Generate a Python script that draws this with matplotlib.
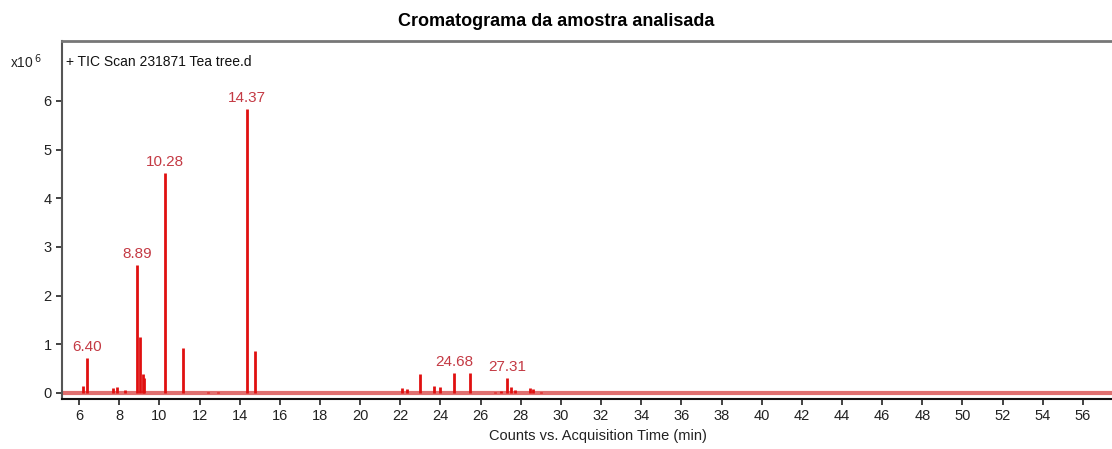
import matplotlib
matplotlib.use("Agg")
import matplotlib.pyplot as plt

plt.rcParams['font.family'] = ['Liberation Sans', 'DejaVu Sans']

# picos do cromatograma (tempo em min, contagens x10^6)
tempos = [6.20, 6.40, 7.70, 7.90, 8.30, 8.89, 9.05, 9.18, 9.25, 10.28, 11.15,
          12.40, 12.90, 14.37, 14.75, 22.10, 22.35, 23.00, 23.70, 24.00, 24.68,
          25.45, 26.70, 27.00, 27.31, 27.50, 27.70, 28.45, 28.60, 29.00]
alturas = [0.15, 0.72, 0.10, 0.12, 0.07, 2.63, 1.15, 0.40, 0.30, 4.52, 0.92,
           0.02, 0.02, 5.83, 0.86, 0.10, 0.08, 0.38, 0.15, 0.12, 0.41,
           0.42, 0.03, 0.05, 0.30, 0.12, 0.07, 0.10, 0.09, 0.03]

rotulos = ["6.40", "8.89", "10.28", "14.37", "24.68", "27.31"]
rotulos_x = [6.40, 8.89, 10.28, 14.37, 24.68, 27.31]
rotulos_y = [0.72, 2.63, 4.52, 5.83, 0.41, 0.30]

xticks = list(range(6, 57, 2))
yticks = list(range(0, 7))

fig = plt.figure(figsize=(11.12, 4.49), dpi=100)
ax = fig.add_axes([0.0558, 0.1114, 0.9442, 0.7973])

ax.axhline(0, color="#e07070", lw=3, zorder=1)
ax.vlines(tempos, 0, alturas, color="#e01010", lw=2, zorder=2)

for txt, x, y in zip(rotulos, rotulos_x, rotulos_y):
    ax.annotate(txt, (x, y), xytext=(0, 3), textcoords="offset points",
                ha="center", va="bottom", color="#c43a44", fontsize=11)

ax.set_xlim(5.15, 57.45)
ax.set_ylim(-0.123, 7.23)
ax.set_xticks(xticks)
ax.set_yticks(yticks)
ax.tick_params(axis="both", direction="out", length=4, width=1.2,
               labelsize=10.5, colors="#222222")
ax.spines["right"].set_visible(False)
ax.spines["top"].set_color("#777777")
ax.spines["top"].set_linewidth(2)
ax.spines["left"].set_color("#555555")
ax.spines["left"].set_linewidth(1.5)
ax.spines["bottom"].set_color("#111111")
ax.spines["bottom"].set_linewidth(1.5)

ax.text(0.004, 0.941, "+ TIC Scan 231871 Tea tree.d", transform=ax.transAxes,
        ha="left", va="center", fontsize=10, color="#111111")
fig.text(0.009, 0.862, r"x10$^{\,6}$", ha="left", va="center", fontsize=10,
         color="#222222")

ax.set_xlabel("Counts vs. Acquisition Time (min)", fontsize=10.5, color="#222222")
ax.xaxis.set_label_coords(0.51, -0.085)
fig.suptitle("Cromatograma da amostra analisada", fontsize=13,
             fontweight="bold", x=0.5, y=0.972)

fig.savefig("out.png", dpi=100)
